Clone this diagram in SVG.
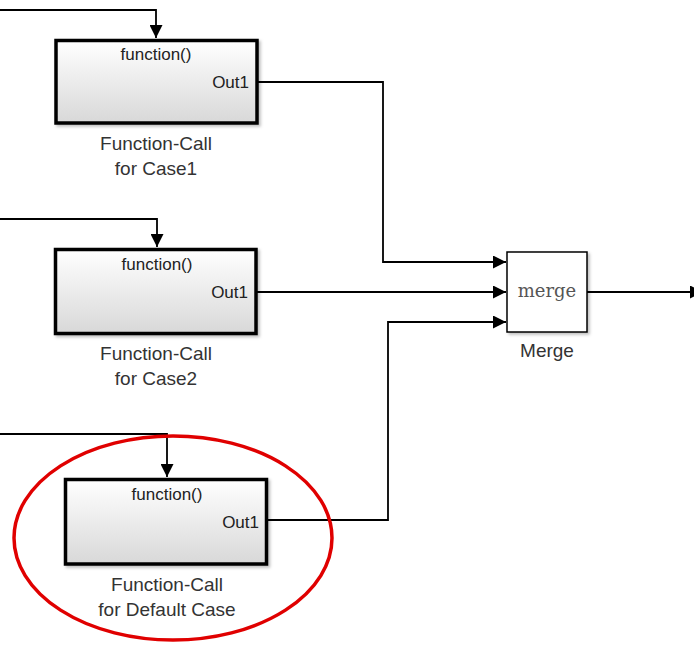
<svg xmlns="http://www.w3.org/2000/svg" width="694" height="649" viewBox="0 0 694 649">
<style>
.blk{fill:url(#g);stroke:#000;stroke-width:3.5}
.mrg{fill:#fff;stroke:#000;stroke-width:1.5}
.in{font-family:"Liberation Sans",Arial,sans-serif;font-size:17px;fill:#222}
.lbl{font-family:"Liberation Sans",Arial,sans-serif;font-size:19px;fill:#333;text-anchor:middle}
.ln{fill:none;stroke:#000;stroke-width:1.8}
</style>
<defs>
<linearGradient id="g" x1="0" y1="0" x2="0" y2="1">
<stop offset="0" stop-color="#ffffff"/>
<stop offset="1" stop-color="#d8d8d8"/>
</linearGradient>
<filter id="sh" x="-10%" y="-10%" width="130%" height="130%">
<feDropShadow dx="2" dy="2" stdDeviation="1.5" flood-color="#000" flood-opacity="0.25"/>
</filter>
<marker id="ar" markerWidth="14" markerHeight="13" refX="13" refY="6.5" orient="auto" markerUnits="userSpaceOnUse" viewBox="0 0 14 13">
<path d="M0,0 L13,6.5 L0,13 Z" fill="#000"/>
</marker>
</defs>
<rect width="694" height="649" fill="#fff"/>
<g id="connectors">
<path class="ln" d="M0,10 H156 V38" marker-end="url(#ar)"/>
<path class="ln" d="M0,219 H157 V247" marker-end="url(#ar)"/>
<path class="ln" d="M0,434 H167 V477" marker-end="url(#ar)"/>
<path class="ln" d="M258,82 H383 V262 H506" marker-end="url(#ar)"/>
<path class="ln" d="M257,292 H506" marker-end="url(#ar)"/>
<path class="ln" d="M268,520 H388 V322 H506" marker-end="url(#ar)"/>
<path class="ln" d="M587,292 H703" marker-end="url(#ar)"/>
</g>
<g id="case1">
<rect class="blk" x="56" y="40.5" width="201" height="82.5" filter="url(#sh)"/>
<text class="in" x="156" y="60" text-anchor="middle">function()</text>
<text class="in" x="249" y="88" text-anchor="end">Out1</text>
<text class="lbl" x="156" y="150">Function-Call</text>
<text class="lbl" x="156" y="175">for Case1</text>
</g>
<g id="case2">
<rect class="blk" x="55.5" y="249.5" width="200.5" height="84" filter="url(#sh)"/>
<text class="in" x="157" y="270" text-anchor="middle">function()</text>
<text class="in" x="248" y="298" text-anchor="end">Out1</text>
<text class="lbl" x="156" y="360">Function-Call</text>
<text class="lbl" x="156" y="385">for Case2</text>
</g>
<g id="default">
<rect class="blk" x="65.5" y="479.5" width="201" height="84.5" filter="url(#sh)"/>
<text class="in" x="167" y="500" text-anchor="middle">function()</text>
<text class="in" x="259" y="528" text-anchor="end">Out1</text>
<text class="lbl" x="167" y="591">Function-Call</text>
<text class="lbl" x="167" y="616">for Default Case</text>
</g>
<g id="merge">
<rect class="mrg" x="507" y="252" width="80" height="80" filter="url(#sh)"/>
<text x="547" y="297" text-anchor="middle" font-family="'DejaVu Serif','Liberation Serif',serif" font-size="18" fill="#555">merge</text>
<text class="lbl" x="547" y="357">Merge</text>
</g>
<g id="highlight">
<ellipse cx="173" cy="538" rx="159" ry="102" fill="none" stroke="#e00000" stroke-width="3.5"/>
</g>
</svg>
